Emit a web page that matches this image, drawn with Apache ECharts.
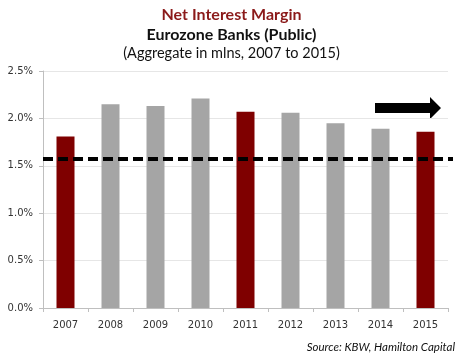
<!DOCTYPE html>
<html><head><meta charset="utf-8">
<script src="https://cdn.jsdelivr.net/npm/echarts@6/dist/echarts.min.js"></script>
<style>html,body{margin:0;padding:0;background:#fff}#c{width:463px;height:359px}</style>
</head><body><div id="c"></div>
<script>
const years = ['2007','2008','2009','2010','2011','2012','2013','2014','2015'];
const nim = [1.81, 2.15, 2.13, 2.21, 2.07, 2.06, 1.95, 1.89, 1.86];
const highlighted = ['2007','2011','2015'];
const refLevel = 1.575;
const yTicks = [0, 0.5, 1.0, 1.5, 2.0, 2.5];

const RED = '#7f0000', GRAY = '#a5a5a5';
const FONT = 'DejaVu Sans';
const chart = echarts.init(document.getElementById('c'));
chart.setOption({
  animation: false,
  textStyle: {fontFamily: FONT},
  title: [
    {text: 'Net Interest Margin', left: 'center', top: 2, textStyle: {fontFamily: 'Lato', fontSize: 16, fontWeight: 'bold', color: '#8b1a1a'}},
    {text: 'Eurozone Banks (Public)', left: 'center', top: 22, textStyle: {fontFamily: 'Lato', fontSize: 16, fontWeight: 'bold', color: '#111'}},
    {text: '(Aggregate in mlns, 2007 to 2015)', left: 'center', top: 41, textStyle: {fontFamily: 'Lato', fontSize: 14.5, fontWeight: 'normal', color: '#111'}},
    {text: 'Source: KBW, Hamilton Capital', right: 3, top: 336, textStyle: {fontFamily: 'Lato', fontSize: 11.5, fontStyle: 'italic', fontWeight: 'normal', color: '#111'}}
  ],
  grid: {left: 43, right: 15, top: 71, bottom: 51},
  xAxis: {
    type: 'category', data: years,
    axisLine: {lineStyle: {color: '#bfbfbf'}},
    axisTick: {show: true, length: 4, lineStyle: {color: '#bfbfbf'}},
    axisLabel: {color: '#333', fontSize: 10, margin: 12}
  },
  yAxis: {
    type: 'value', min: 0, max: 2.5, interval: 0.5,
    axisLine: {show: true, lineStyle: {color: '#bfbfbf'}},
    axisTick: {show: true, length: 4, inside: false, lineStyle: {color: '#bfbfbf'}},
    splitLine: {lineStyle: {color: '#e6e6e6'}},
    axisLabel: {color: '#333', fontSize: 10, margin: 10, formatter: v => v.toFixed(1) + '%'}
  },
  series: [{
    type: 'bar', barWidth: '40%',
    data: nim.map((v, i) => ({value: v, itemStyle: {color: highlighted.includes(years[i]) ? RED : GRAY}})),
    markLine: {
      silent: true, symbol: 'none', label: {show: false},
      lineStyle: {color: '#000', type: [10, 5], width: 4},
      data: [[{xAxis: 0, yAxis: refLevel, x: 43}, {yAxis: refLevel, x: 453}]]
    }
  }],
  graphic: [{
    type: 'polygon',
    shape: {points: [[375,103],[430,103],[430,97],[441,108],[430,119],[430,113],[375,113]]},
    style: {fill: '#000'}
  }]
});
</script></body></html>
